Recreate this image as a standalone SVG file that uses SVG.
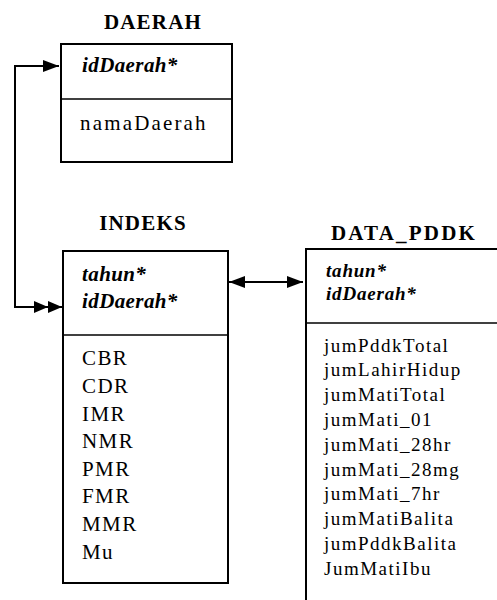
<svg xmlns="http://www.w3.org/2000/svg" width="497" height="600" viewBox="0 0 497 600">
  <style>
    .box { fill: #fff; stroke: #000; stroke-width: 2; }
    .div { stroke: #000; stroke-width: 1.5; }
    .title { font-family: "Liberation Serif", serif; font-weight: bold; font-size: 21px; text-anchor: middle; letter-spacing: 1.2px; }
    .key { font-family: "Liberation Serif", serif; font-weight: bold; font-style: italic; font-size: 21px; letter-spacing: 0.4px; }
    .attr { font-family: "Liberation Serif", serif; font-size: 21px; letter-spacing: 1.4px; }
    .key2 { font-family: "Liberation Serif", serif; font-weight: bold; font-style: italic; font-size: 19px; letter-spacing: 0.8px; }
    .attr2 { font-family: "Liberation Serif", serif; font-size: 19px; letter-spacing: 1.5px; }
    .link { fill: none; stroke: #000; stroke-width: 2; }
  </style>
  <defs>
    <marker id="head" markerWidth="16" markerHeight="12" refX="16" refY="6" orient="auto-start-reverse" markerUnits="userSpaceOnUse">
      <path d="M0,0 L16,6 L0,12 Z" fill="#000"/>
    </marker>
    <marker id="double" markerWidth="28" markerHeight="12" refX="28" refY="6" orient="auto-start-reverse" markerUnits="userSpaceOnUse">
      <path d="M0,0 L14,6 L0,12 Z M14,0 L28,6 L14,12 Z" fill="#000"/>
    </marker>
  </defs>

  <!-- DAERAH table -->
  <g id="daerah">
    <text class="title" x="153" y="29">DAERAH</text>
    <rect class="box" x="61" y="44" width="171" height="118"/>
    <line class="div" x1="61" y1="99" x2="232" y2="99"/>
    <text class="key" x="82" y="72">idDaerah*</text>
    <text class="attr" x="80" y="130" textLength="127" lengthAdjust="spacing">namaDaerah</text>
  </g>

  <!-- INDEKS table -->
  <g id="indeks">
    <text class="title" x="143" y="230">INDEKS</text>
    <rect class="box" x="63" y="251" width="165" height="332"/>
    <line class="div" x1="63" y1="335" x2="229" y2="335"/>
    <text class="key" x="82" y="281">tahun*</text>
    <text class="key" x="82" y="308">idDaerah*</text>
    <text class="attr" x="82" y="365">CBR</text>
    <text class="attr" x="82" y="393">CDR</text>
    <text class="attr" x="82" y="421">IMR</text>
    <text class="attr" x="82" y="448">NMR</text>
    <text class="attr" x="82" y="476">PMR</text>
    <text class="attr" x="82" y="503">FMR</text>
    <text class="attr" x="82" y="531">MMR</text>
    <text class="attr" x="82" y="559">Mu</text>
  </g>

  <!-- DATA_PDDK table -->
  <g id="data_pddk">
    <text class="title" x="404" y="240" style="letter-spacing:2.2px">DATA_PDDK</text>
    <rect class="box" x="306" y="249" width="200" height="360"/>
    <line class="div" x1="306" y1="323" x2="497" y2="323"/>
    <text class="key2" x="326" y="277">tahun*</text>
    <text class="key2" x="326" y="300">idDaerah*</text>
    <text class="attr2" x="324" y="352">jumPddkTotal</text>
    <text class="attr2" x="324" y="376">jumLahirHidup</text>
    <text class="attr2" x="324" y="401">jumMatiTotal</text>
    <text class="attr2" x="324" y="426">jumMati_01</text>
    <text class="attr2" x="324" y="451">jumMati_28hr</text>
    <text class="attr2" x="324" y="476">jumMati_28mg</text>
    <text class="attr2" x="324" y="500">jumMati_7hr</text>
    <text class="attr2" x="324" y="525">jumMatiBalita</text>
    <text class="attr2" x="324" y="550">jumPddkBalita</text>
    <text class="attr2" x="324" y="575">JumMatiIbu</text>
  </g>

  <!-- relationships -->
  <g id="connectors">
    <path class="link" d="M62,307 H15 V66 H59" marker-start="url(#double)" marker-end="url(#head)"/>
    <path class="link" d="M229,282 H303" marker-start="url(#head)" marker-end="url(#head)"/>
  </g>
</svg>
